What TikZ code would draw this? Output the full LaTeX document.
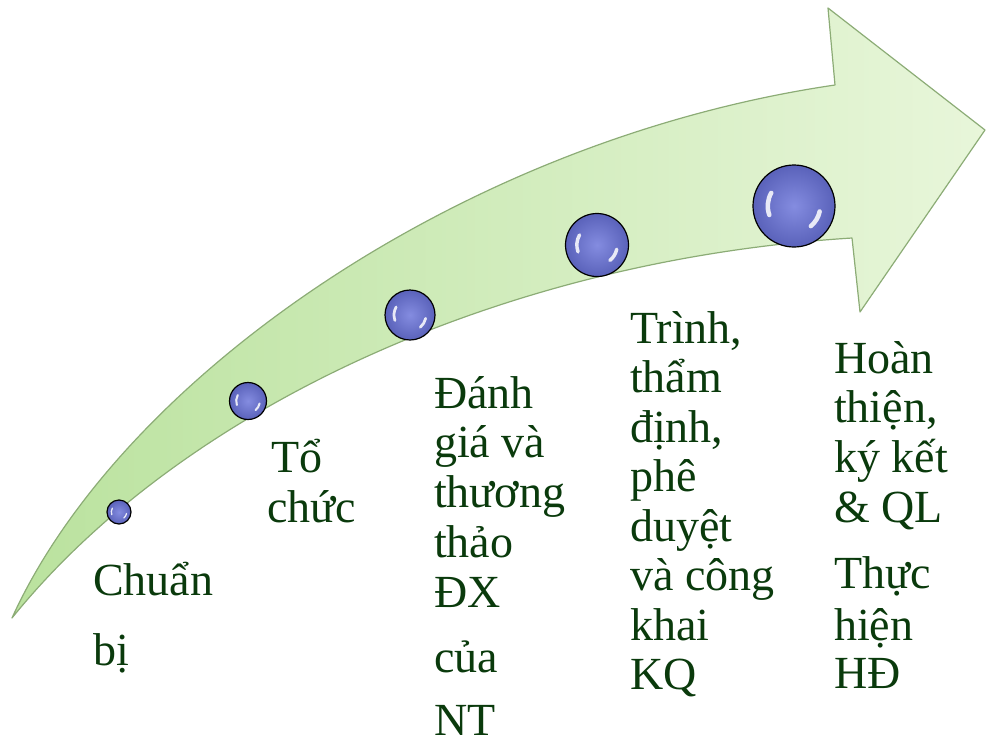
\documentclass[tikz,border=0pt]{standalone}
\usepackage{fontspec}
\setmainfont{Liberation Serif}
\definecolor{txtgreen}{RGB}{10,58,12}
\definecolor{arrowL}{RGB}{186,226,158}
\definecolor{arrowR}{RGB}{232,246,218}
\definecolor{arrowEdge}{RGB}{140,172,118}
\definecolor{ballIn}{RGB}{132,140,224}
\definecolor{ballOut}{RGB}{90,98,186}
\newcommand\ballglints[2]{%
  \draw[white, opacity=0.85, line width={0.11*#2 pt}, line cap=round]
    ([shift={(150:{0.64*#2 pt})}]#1.center) arc[start angle=150, end angle=200, radius={0.64*#2 pt}];
  \draw[white, opacity=0.85, line width={0.11*#2 pt}, line cap=round]
    ([shift={(-12:{0.64*#2 pt})}]#1.center) arc[start angle=-12, end angle=-50, radius={0.64*#2 pt}];
}
\begin{document}
\begin{tikzpicture}[x=1pt,y=-1pt,
  lbl/.style={anchor=base west, inner sep=0pt, text=txtgreen, font=\fontsize{46}{50}\selectfont},
  ballnode/.style={circle, draw=black, line width=1.2pt, inner sep=0pt, shading=radial, inner color=ballIn, outer color=ballOut}]
\useasboundingbox (0,0) rectangle (988,745);
% arrow
\shadedraw[left color=arrowL, right color=arrowR, draw=arrowEdge, line width=1.2pt, line join=round]
  (12,618) .. controls (120,380) and (460,140) .. (835,85) -- (828,8) -- (985,130) -- (860,312) -- (852,238)
  .. controls (500,260) and (180,410) .. (12,618) -- cycle;
% balls
\node[ballnode, minimum size=24pt] (b1) at (119,512) {};
\ballglints{b1}{12}
\node[ballnode, minimum size=37pt] (b2) at (248,401) {};
\ballglints{b2}{18.5}
\node[ballnode, minimum size=50pt] (b3) at (410,315) {};
\ballglints{b3}{25}
\node[ballnode, minimum size=63pt] (b4) at (597,245) {};
\ballglints{b4}{31.5}
\node[ballnode, minimum size=82pt] (b5) at (794,206) {};
\ballglints{b5}{41}
% column 1
\node[lbl] (t1a) at (93,595) {Chuẩn};
\node[lbl] (t1b) at (93,665) {bị};
% column 2
\node[lbl] (t2a) at (271,472) {Tổ};
\node[lbl] (t2b) at (267,522) {chức};
% column 3
\node[lbl] (t3a) at (434,408) {Đánh};
\node[lbl] (t3b) at (434,457) {giá và};
\node[lbl] (t3c) at (434,507) {thương};
\node[lbl] (t3d) at (434,557) {thảo};
\node[lbl] (t3e) at (434,607) {ĐX};
\node[lbl] (t3f) at (434,672) {của};
\node[lbl] (t3g) at (434,735) {NT};
% column 4
\node[lbl] (t4a) at (630,343) {Trình,};
\node[lbl] (t4b) at (630,392.5) {thẩm};
\node[lbl] (t4c) at (630,442) {định,};
\node[lbl] (t4d) at (630,491.5) {phê};
\node[lbl] (t4e) at (630,541) {duyệt};
\node[lbl] (t4f) at (630,590.5) {và công};
\node[lbl] (t4g) at (630,640) {khai};
\node[lbl] (t4h) at (630,689.5) {KQ};
% column 5
\node[lbl] (t5a) at (834,373) {Hoàn};
\node[lbl] (t5b) at (834,422) {thiện,};
\node[lbl] (t5c) at (834,472) {ký kết};
\node[lbl] (t5d) at (834,522) {\& QL};
\node[lbl] (t5e) at (834,588) {Thực};
\node[lbl] (t5f) at (834,640) {hiện};
\node[lbl] (t5g) at (834,688) {HĐ};
\end{tikzpicture}
\end{document}
